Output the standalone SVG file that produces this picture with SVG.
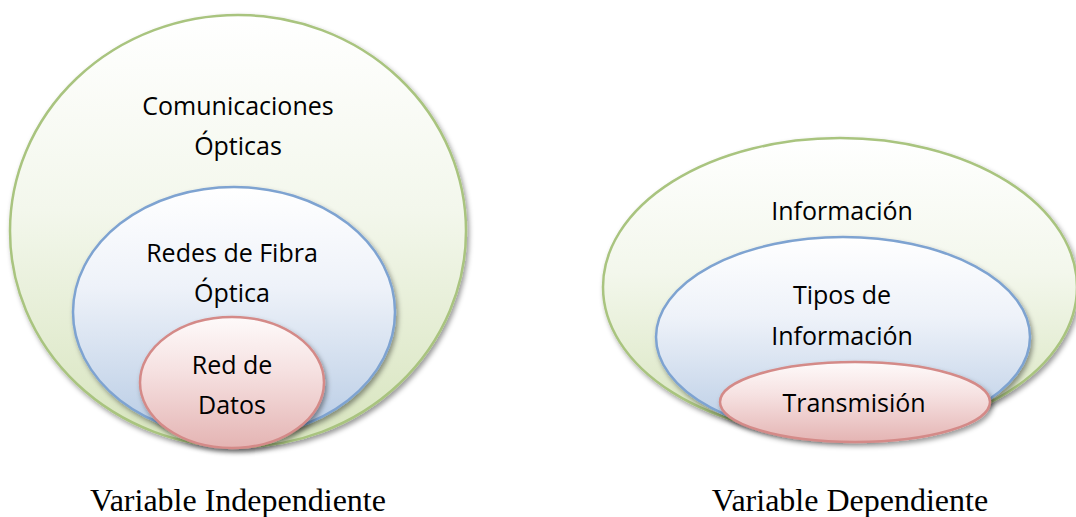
<svg xmlns="http://www.w3.org/2000/svg" width="1076" height="517" viewBox="0 0 1076 517">
  <style>
    .lbl { font-family: "Open Sans", "Liberation Sans", sans-serif; font-size: 25px; fill: #000; text-anchor: middle; }
    .cap { font-family: "Liberation Serif", "Times New Roman", serif; font-size: 32px; fill: #000; text-anchor: middle; }
    .g { fill: url(#gGreen); stroke: #a9c47f; stroke-width: 2.5; filter: url(#sh); }
    .b { fill: url(#gBlue); stroke: #7ea3d1; stroke-width: 2.5; filter: url(#sh); }
    .r { fill: url(#gRed); stroke: #d48a88; stroke-width: 2.5; filter: url(#sh); }
  </style>
  <defs>
    <linearGradient id="gGreen" x1="0" y1="0" x2="0" y2="1">
      <stop offset="0" stop-color="#ffffff"/>
      <stop offset="0.45" stop-color="#f3f7ec"/>
      <stop offset="1" stop-color="#d7e4bd"/>
    </linearGradient>
    <linearGradient id="gBlue" x1="0" y1="0" x2="0" y2="1">
      <stop offset="0" stop-color="#ffffff"/>
      <stop offset="0.4" stop-color="#eef2f9"/>
      <stop offset="1" stop-color="#b7cbe4"/>
    </linearGradient>
    <linearGradient id="gRed" x1="0" y1="0" x2="0" y2="1">
      <stop offset="0" stop-color="#fefafa"/>
      <stop offset="0.4" stop-color="#f6e2e2"/>
      <stop offset="1" stop-color="#e4b4b3"/>
    </linearGradient>
    <filter id="sh" x="-10%" y="-10%" width="125%" height="130%">
      <feDropShadow dx="2" dy="3" stdDeviation="2.5" flood-color="#000" flood-opacity="0.4"/>
    </filter>
  </defs>

  <g id="comunicaciones-opticas">
    <ellipse class="g" cx="238" cy="231" rx="228" ry="216"/>
    <text class="lbl" x="238" y="115">Comunicaciones</text>
    <text class="lbl" x="238" y="155">Ópticas</text>
  </g>
  <g id="redes-fibra-optica">
    <ellipse class="b" cx="234" cy="312" rx="161" ry="125"/>
    <text class="lbl" x="232" y="262">Redes de Fibra</text>
    <text class="lbl" x="232" y="302">Óptica</text>
  </g>
  <g id="red-de-datos">
    <ellipse class="r" cx="232" cy="382.5" rx="92" ry="65.5"/>
    <text class="lbl" x="232" y="374">Red de</text>
    <text class="lbl" x="232" y="414">Datos</text>
  </g>

  <g id="informacion">
    <ellipse class="g" cx="840" cy="287" rx="237" ry="149"/>
    <text class="lbl" x="842" y="220">Información</text>
  </g>
  <g id="tipos-de-informacion">
    <ellipse class="b" cx="843" cy="337" rx="187" ry="100"/>
    <text class="lbl" x="842" y="304">Tipos de</text>
    <text class="lbl" x="842" y="345">Información</text>
  </g>
  <g id="transmision">
    <ellipse class="r" cx="855" cy="402" rx="135" ry="40"/>
    <text class="lbl" x="854" y="412">Transmisión</text>
  </g>

  <g id="connectors"></g>

  <g id="captions">
    <text class="cap" x="238" y="511">Variable Independiente</text>
    <text class="cap" x="850" y="511">Variable Dependiente</text>
  </g>
</svg>
